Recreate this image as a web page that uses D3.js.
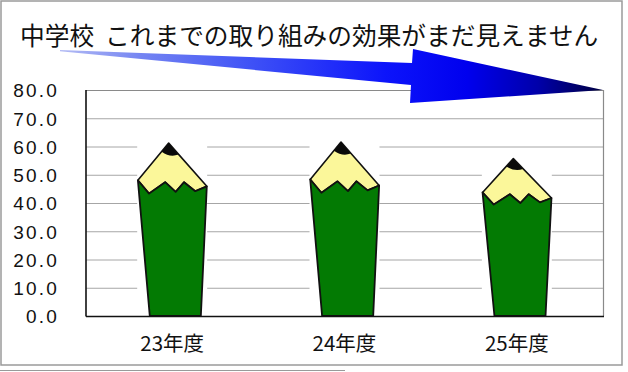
<!DOCTYPE html>
<html><head><meta charset="utf-8">
<script src="https://cdn.jsdelivr.net/npm/d3@7"></script>
<style>body{margin:0;background:#fff}svg{display:block}</style>
</head><body>
<script>
// chart data
const categories = ["23年度", "24年度", "25年度"];
const values = [61.2, 61.6, 55.7];
const yTicks = [0, 10, 20, 30, 40, 50, 60, 70, 80];
const titleText = "中学校  これまでの取り組みの効果がまだ見えません";

const W = 628, H = 372;
const plot = {left: 86, right: 603, top: 90, bottom: 316};

const svg = d3.select("body").append("svg")
  .attr("width", W).attr("height", H)
  .attr("font-family", "'Noto Sans CJK JP', 'Liberation Sans', sans-serif");

const x = d3.scaleBand().domain(categories)
  .range([plot.left, plot.right]).paddingInner(0.594).paddingOuter(0.297);
const y = d3.scaleLinear().domain([0, 80]).range([plot.bottom, plot.top]);

// outer frame
svg.append("rect").attr("x", 1).attr("y", 1).attr("width", 621).attr("height", 364)
  .attr("fill", "none").attr("stroke", "#9a9a9a").attr("stroke-width", 1.5);
svg.append("line").attr("x1", 0).attr("x2", 345).attr("y1", 370.5).attr("y2", 370.5)
  .attr("stroke", "#9a9a9a").attr("stroke-width", 1.2);

// title
svg.append("text").attr("x", 20).attr("y", 45)
  .attr("font-size", 24.7).attr("fill", "#111")
  .style("white-space", "pre")
  .text(titleText);

// gridlines
svg.append("g").selectAll("line").data(yTicks.filter(d => d > 0)).join("line")
  .attr("x1", plot.left).attr("x2", plot.right)
  .attr("y1", d => y(d) + 0.5).attr("y2", d => y(d) + 0.5)
  .attr("stroke", "#a6a6a6").attr("stroke-width", 1);

// plot frame (top / right)
svg.append("path")
  .attr("d", `M${plot.left},${y(80) + 0.5}H${plot.right + 0.5}V${plot.bottom}`)
  .attr("fill", "none").attr("stroke", "#8a8a8a").attr("stroke-width", 1.2);

// y axis labels
const yAxis = d3.axisLeft(y).tickValues(yTicks).tickFormat(d3.format(".1f")).tickSize(0).tickPadding(0);
const gy = svg.append("g").attr("transform", `translate(${plot.left - 27},0)`).call(yAxis);
gy.select(".domain").remove();
gy.selectAll("text")
  .attr("font-family", "'Liberation Sans', Arial, sans-serif")
  .attr("font-size", 19).attr("fill", "#111")
  .attr("letter-spacing", "2.2px").attr("dy", "0.36em");

// pencil shape in unit coordinates (u across the bar, v down from the bar top)
const apex = [0.45, 0];
const shoulderL = [0.01, 0.215], shoulderR = [0.995, 0.25];
const zigzag = [shoulderL, [0.17, 0.292], [0.40, 0.226], [0.55, 0.282], [0.67, 0.226], [0.83, 0.278], shoulderR];
const bottomL = [0.18, 1], bottomR = [0.91, 1];

const bars = svg.append("g").selectAll("g").data(categories.map((c, i) => ({c, v: values[i]}))).join("g");

bars.each(function(d) {
  const g = d3.select(this);
  const x0 = x(d.c), w = x.bandwidth(), t = y(d.v), b = y(0), h = b - t;
  const P = ([u, v]) => [x0 + u * w, t + v * h];
  const poly = pts => "M" + pts.map(p => P(p).join(",")).join("L") + "Z";

  // white backing of the bar
  g.append("rect").attr("x", x0).attr("y", t).attr("width", w).attr("height", h).attr("fill", "#fff");

  // wooden cone
  g.append("path").attr("d", poly([apex, ...zigzag]))
    .attr("fill", "#fbf79a").attr("stroke", "#111").attr("stroke-width", 1.6).attr("stroke-linejoin", "round");
  // green body
  g.append("path").attr("d", poly([...zigzag, bottomR, bottomL]))
    .attr("fill", "#037a03").attr("stroke", "#111").attr("stroke-width", 1.8).attr("stroke-linejoin", "round");
  // lead tip
  const l = P([0.35, 0.05]), r = P([0.59, 0.066]), c = P([0.47, 0.085]), a = P(apex);
  g.append("path").attr("d", `M${a}L${l}Q${c} ${r}Z`).attr("fill", "#0a0a0a");
});

// axis lines
svg.append("line").attr("x1", plot.left).attr("x2", plot.left).attr("y1", plot.top).attr("y2", plot.bottom + 0.5)
  .attr("stroke", "#111").attr("stroke-width", 1.6);
svg.append("line").attr("x1", plot.left).attr("x2", plot.right + 1).attr("y1", plot.bottom + 0.5).attr("y2", plot.bottom + 0.5)
  .attr("stroke", "#111").attr("stroke-width", 1.6);

// category labels
svg.append("g").selectAll("text").data(categories).join("text")
  .attr("x", d => x(d) + x.bandwidth() / 2).attr("y", 351)
  .attr("text-anchor", "middle").attr("font-size", 20.5).attr("fill", "#111")
  .text(d => d);

// arrow across the top
const defs = svg.append("defs");
const grad = defs.append("linearGradient").attr("id", "arrowFill")
  .attr("gradientUnits", "userSpaceOnUse").attr("x1", 60).attr("y1", 0).attr("x2", 603).attr("y2", 0);
[[0, "#b4bcf4"], [0.15, "#7484f2"], [0.35, "#3f52f6"], [0.6, "#0c14fb"], [0.75, "#0000ee"], [0.88, "#0000aa"], [1, "#000040"]]
  .forEach(([o, col]) => grad.append("stop").attr("offset", o).attr("stop-color", col));

const arrowPts = [[60, 50], [412, 63], [413, 49], [603, 90], [410, 103], [411, 85], [60, 51.2]];
svg.append("path").attr("d", d3.line()(arrowPts) + "Z").attr("fill", "url(#arrowFill)");
</script>
</body></html>
